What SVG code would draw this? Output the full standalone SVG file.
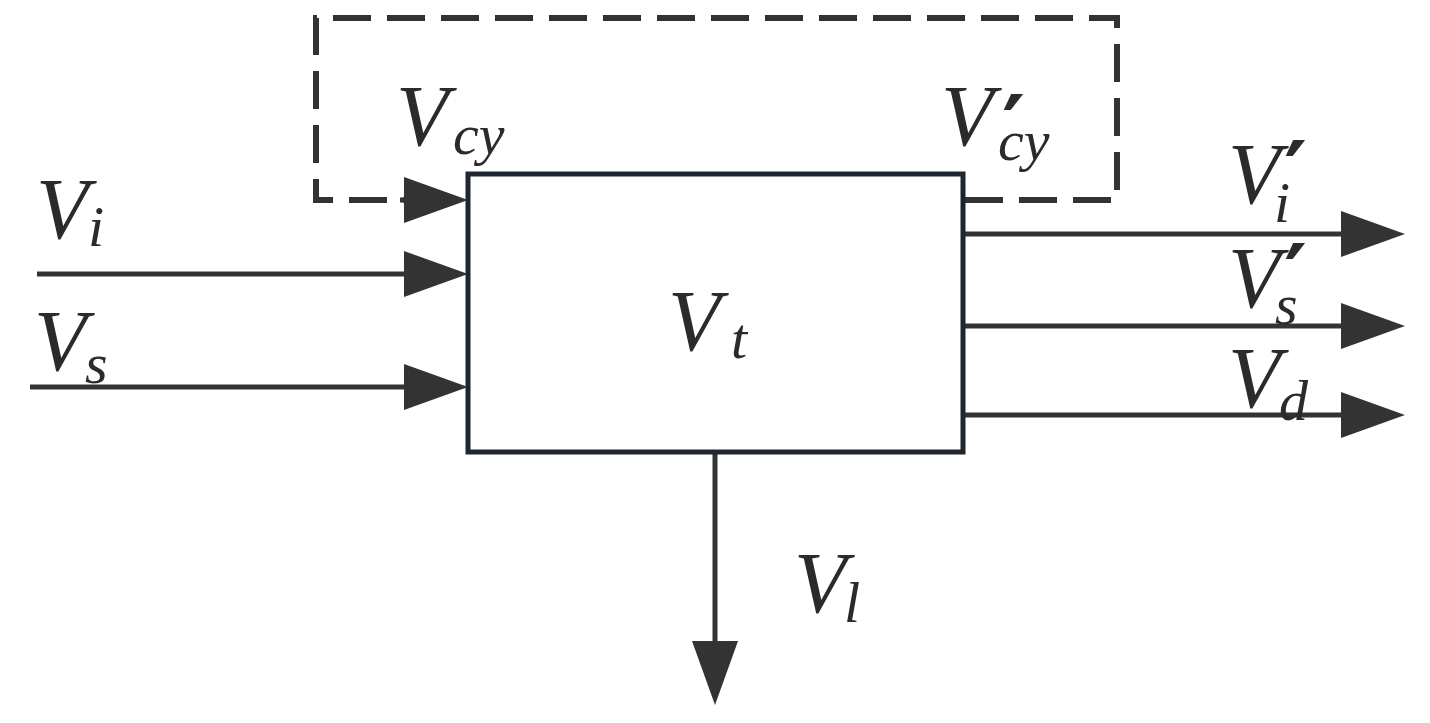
<svg xmlns="http://www.w3.org/2000/svg" width="1430" height="723" viewBox="0 0 1430 723">
<style>
.ln{stroke:#333;stroke-width:5;fill:none}
.dash{stroke:#333;stroke-width:6;fill:none;stroke-dasharray:38 16}
.m{font-family:"Liberation Serif","Times New Roman",serif;font-style:italic;fill:#2b2b2b}
.big{font-size:86px}
.sub{font-size:58px}
.pr{font-family:"DejaVu Sans",sans-serif;font-size:88px;fill:#2b2b2b;font-weight:bold}
</style>
<defs>
<marker id="ah" viewBox="0 0 64 46" refX="54" refY="23" markerWidth="64" markerHeight="46" markerUnits="userSpaceOnUse" orient="auto">
<path d="M0,0 L64,23 L0,46 Z" fill="#333"/>
</marker>
</defs>
<rect width="1430" height="723" fill="#fff"/>
<g id="connectors">
<path class="dash" d="M965,200 H1117 V18 H316 V200 H420"/>
<path class="ln" d="M400,200 H458" marker-end="url(#ah)"/>
<path class="ln" d="M37,274 H458" marker-end="url(#ah)"/>
<path class="ln" d="M30,387 H458" marker-end="url(#ah)"/>
<path class="ln" d="M963,234 H1395" marker-end="url(#ah)"/>
<path class="ln" d="M963,326 H1395" marker-end="url(#ah)"/>
<path class="ln" d="M963,415 H1395" marker-end="url(#ah)"/>
<path class="ln" d="M715,452 V695" marker-end="url(#ah)"/>
</g>
<g id="node-vt">
<rect x="468" y="174" width="495" height="278" fill="none" stroke="#1f2630" stroke-width="5"/>
<text class="m big" x="668" y="350">V</text><text class="m sub" x="731" y="358">t</text>
</g>
<g id="labels">
<text class="m big" x="36" y="238">V</text><text class="m sub" x="88" y="246">i</text>
<text class="m big" x="34" y="370">V</text><text class="m sub" x="85" y="383">s</text>
<text class="m big" x="396" y="145">V</text><text class="m sub" x="453" y="154">cy</text>
<text class="m big" x="941" y="145">V</text><text class="pr" x="1002" y="158">′</text><text class="m sub" x="998" y="160">cy</text>
<text class="m big" x="1228" y="203">V</text><text class="pr" x="1284" y="204">′</text><text class="m sub" x="1274" y="222">i</text>
<text class="m big" x="1228" y="307">V</text><text class="pr" x="1284" y="307">′</text><text class="m sub" x="1275" y="324">s</text>
<text class="m big" x="1228" y="407">V</text><text class="m sub" x="1279" y="420">d</text>
<text class="m big" x="794" y="612">V</text><text class="m sub" x="844" y="622">l</text>
</g>
</svg>
